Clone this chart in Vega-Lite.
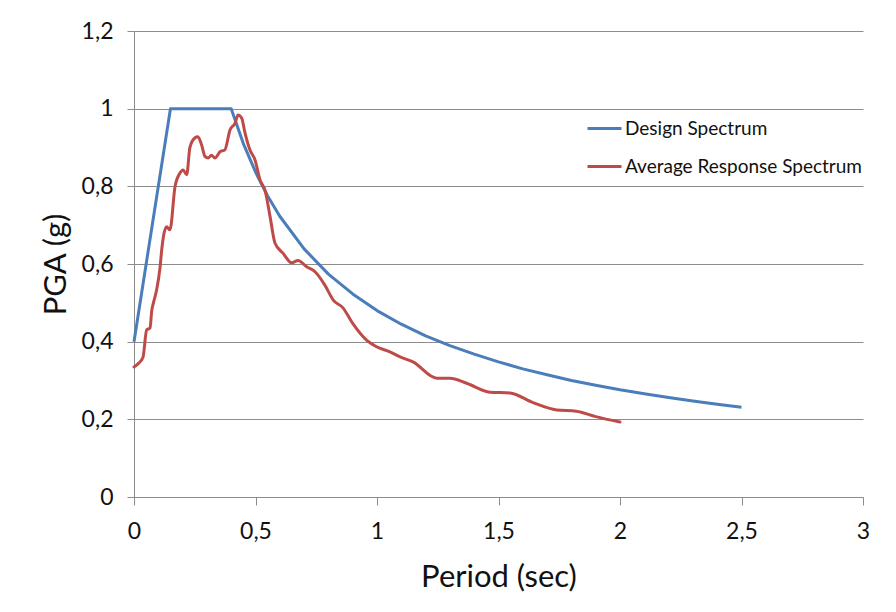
{
  "$schema": "https://vega.github.io/schema/vega-lite/v6.json",
  "width": 729,
  "height": 466,
  "autosize": {"type": "none"},
  "padding": {"left": 134, "top": 31, "right": 33, "bottom": 115},
  "background": "white",
  "config": {
    "view": {"stroke": null},
    "font": "Lato",
    "axis": {"labelFont": "Lato", "titleFont": "Lato", "labelColor": "#111", "titleColor": "#111", "titleFontWeight": "normal"}
  },
  "data": {
    "values": [
      {"series": "Design Spectrum", "T": 0, "v": 0.4},
      {"series": "Design Spectrum", "T": 0.15, "v": 1.0},
      {"series": "Design Spectrum", "T": 0.4, "v": 1.0},
      {"series": "Design Spectrum", "T": 0.45, "v": 0.91},
      {"series": "Design Spectrum", "T": 0.5, "v": 0.837},
      {"series": "Design Spectrum", "T": 0.55, "v": 0.775},
      {"series": "Design Spectrum", "T": 0.6, "v": 0.723},
      {"series": "Design Spectrum", "T": 0.7, "v": 0.639},
      {"series": "Design Spectrum", "T": 0.8, "v": 0.574},
      {"series": "Design Spectrum", "T": 0.9, "v": 0.523},
      {"series": "Design Spectrum", "T": 1.0, "v": 0.48},
      {"series": "Design Spectrum", "T": 1.1, "v": 0.445},
      {"series": "Design Spectrum", "T": 1.2, "v": 0.415},
      {"series": "Design Spectrum", "T": 1.3, "v": 0.39},
      {"series": "Design Spectrum", "T": 1.4, "v": 0.368},
      {"series": "Design Spectrum", "T": 1.5, "v": 0.348},
      {"series": "Design Spectrum", "T": 1.6, "v": 0.33},
      {"series": "Design Spectrum", "T": 1.7, "v": 0.315},
      {"series": "Design Spectrum", "T": 1.8, "v": 0.3},
      {"series": "Design Spectrum", "T": 1.9, "v": 0.288},
      {"series": "Design Spectrum", "T": 2.0, "v": 0.276},
      {"series": "Design Spectrum", "T": 2.1, "v": 0.266},
      {"series": "Design Spectrum", "T": 2.2, "v": 0.256},
      {"series": "Design Spectrum", "T": 2.3, "v": 0.247},
      {"series": "Design Spectrum", "T": 2.4, "v": 0.239},
      {"series": "Design Spectrum", "T": 2.5, "v": 0.231},
      {"series": "Average Response Spectrum", "T": 0, "v": 0.335},
      {"series": "Average Response Spectrum", "T": 0.02, "v": 0.345},
      {"series": "Average Response Spectrum", "T": 0.037, "v": 0.36},
      {"series": "Average Response Spectrum", "T": 0.052, "v": 0.43},
      {"series": "Average Response Spectrum", "T": 0.066, "v": 0.435},
      {"series": "Average Response Spectrum", "T": 0.073, "v": 0.48},
      {"series": "Average Response Spectrum", "T": 0.08, "v": 0.5},
      {"series": "Average Response Spectrum", "T": 0.093, "v": 0.533},
      {"series": "Average Response Spectrum", "T": 0.107, "v": 0.59},
      {"series": "Average Response Spectrum", "T": 0.114, "v": 0.636},
      {"series": "Average Response Spectrum", "T": 0.121, "v": 0.67},
      {"series": "Average Response Spectrum", "T": 0.134, "v": 0.696},
      {"series": "Average Response Spectrum", "T": 0.148, "v": 0.688},
      {"series": "Average Response Spectrum", "T": 0.169, "v": 0.8},
      {"series": "Average Response Spectrum", "T": 0.189, "v": 0.834},
      {"series": "Average Response Spectrum", "T": 0.202, "v": 0.842},
      {"series": "Average Response Spectrum", "T": 0.217, "v": 0.83},
      {"series": "Average Response Spectrum", "T": 0.23, "v": 0.9},
      {"series": "Average Response Spectrum", "T": 0.251, "v": 0.925},
      {"series": "Average Response Spectrum", "T": 0.263, "v": 0.928},
      {"series": "Average Response Spectrum", "T": 0.278, "v": 0.907},
      {"series": "Average Response Spectrum", "T": 0.292, "v": 0.877},
      {"series": "Average Response Spectrum", "T": 0.305, "v": 0.873},
      {"series": "Average Response Spectrum", "T": 0.319, "v": 0.88},
      {"series": "Average Response Spectrum", "T": 0.333, "v": 0.873},
      {"series": "Average Response Spectrum", "T": 0.354, "v": 0.889},
      {"series": "Average Response Spectrum", "T": 0.374, "v": 0.894},
      {"series": "Average Response Spectrum", "T": 0.395, "v": 0.945},
      {"series": "Average Response Spectrum", "T": 0.416, "v": 0.963},
      {"series": "Average Response Spectrum", "T": 0.428, "v": 0.984},
      {"series": "Average Response Spectrum", "T": 0.443, "v": 0.976},
      {"series": "Average Response Spectrum", "T": 0.457, "v": 0.937},
      {"series": "Average Response Spectrum", "T": 0.477, "v": 0.894},
      {"series": "Average Response Spectrum", "T": 0.498, "v": 0.868},
      {"series": "Average Response Spectrum", "T": 0.519, "v": 0.816},
      {"series": "Average Response Spectrum", "T": 0.539, "v": 0.79},
      {"series": "Average Response Spectrum", "T": 0.56, "v": 0.722},
      {"series": "Average Response Spectrum", "T": 0.58, "v": 0.654},
      {"series": "Average Response Spectrum", "T": 0.613, "v": 0.628},
      {"series": "Average Response Spectrum", "T": 0.649, "v": 0.603},
      {"series": "Average Response Spectrum", "T": 0.675, "v": 0.609},
      {"series": "Average Response Spectrum", "T": 0.71, "v": 0.593},
      {"series": "Average Response Spectrum", "T": 0.745, "v": 0.58},
      {"series": "Average Response Spectrum", "T": 0.786, "v": 0.545},
      {"series": "Average Response Spectrum", "T": 0.82, "v": 0.507},
      {"series": "Average Response Spectrum", "T": 0.86, "v": 0.487},
      {"series": "Average Response Spectrum", "T": 0.9, "v": 0.447},
      {"series": "Average Response Spectrum", "T": 0.957, "v": 0.404},
      {"series": "Average Response Spectrum", "T": 0.998, "v": 0.387},
      {"series": "Average Response Spectrum", "T": 1.053, "v": 0.374},
      {"series": "Average Response Spectrum", "T": 1.095, "v": 0.361},
      {"series": "Average Response Spectrum", "T": 1.148, "v": 0.348},
      {"series": "Average Response Spectrum", "T": 1.246, "v": 0.306},
      {"series": "Average Response Spectrum", "T": 1.3, "v": 0.306},
      {"series": "Average Response Spectrum", "T": 1.369, "v": 0.293},
      {"series": "Average Response Spectrum", "T": 1.465, "v": 0.27},
      {"series": "Average Response Spectrum", "T": 1.547, "v": 0.268},
      {"series": "Average Response Spectrum", "T": 1.642, "v": 0.243},
      {"series": "Average Response Spectrum", "T": 1.739, "v": 0.224},
      {"series": "Average Response Spectrum", "T": 1.82, "v": 0.221},
      {"series": "Average Response Spectrum", "T": 1.9, "v": 0.207},
      {"series": "Average Response Spectrum", "T": 2.0, "v": 0.193}
    ]
  },
  "encoding": {
    "x": {
      "field": "T", "type": "quantitative",
      "scale": {"domain": [0, 3], "nice": false},
      "axis": {
        "title": "Period (sec)", "titleFontSize": 31, "titleY": 80, "titleBaseline": "middle",
        "values": [0, 0.5, 1, 1.5, 2, 2.5, 3],
        "labelExpr": "replace(toString(datum.value), '.', ',')",
        "labelFontSize": 23, "labelPadding": 15, "labelFlush": false,
        "grid": false, "domainColor": "#8c8c8c", "tickColor": "#8c8c8c", "tickSize": 8
      }
    },
    "y": {
      "field": "v", "type": "quantitative",
      "scale": {"domain": [0, 1.2], "nice": false},
      "axis": {
        "title": "PGA (g)", "titleFontSize": 31, "titleX": -78, "titleBaseline": "middle",
        "values": [0, 0.2, 0.4, 0.6, 0.8, 1, 1.2],
        "labelExpr": "replace(toString(datum.value), '.', ',')",
        "labelFontSize": 23, "labelPadding": 14, "labelFlush": false,
        "grid": true, "gridColor": "#8c8c8c", "gridOpacity": 1,
        "domainColor": "#8c8c8c", "tickColor": "#8c8c8c", "tickSize": 7
      }
    },
    "color": {
      "field": "series", "type": "nominal",
      "scale": {"domain": ["Design Spectrum", "Average Response Spectrum"], "range": ["#4A7EBB", "#BE4B48"]},
      "legend": {
        "title": null, "orient": "none", "legendX": 452, "legendY": 79,
        "symbolType": "stroke", "symbolSize": 1156, "symbolStrokeWidth": 3,
        "labelFontSize": 19, "labelFont": "Lato", "labelColor": "#111", "labelOffset": 2,
        "labelLimit": 400, "rowPadding": 9
      }
    }
  },
  "layer": [
    {
      "transform": [{"filter": "datum.series === 'Design Spectrum'"}],
      "mark": {"type": "line", "strokeWidth": 3, "interpolate": "linear", "strokeJoin": "round"}
    },
    {
      "transform": [{"filter": "datum.series === 'Average Response Spectrum'"}],
      "mark": {"type": "line", "strokeWidth": 3, "interpolate": "monotone", "strokeJoin": "round", "strokeCap": "round"}
    }
  ]
}
